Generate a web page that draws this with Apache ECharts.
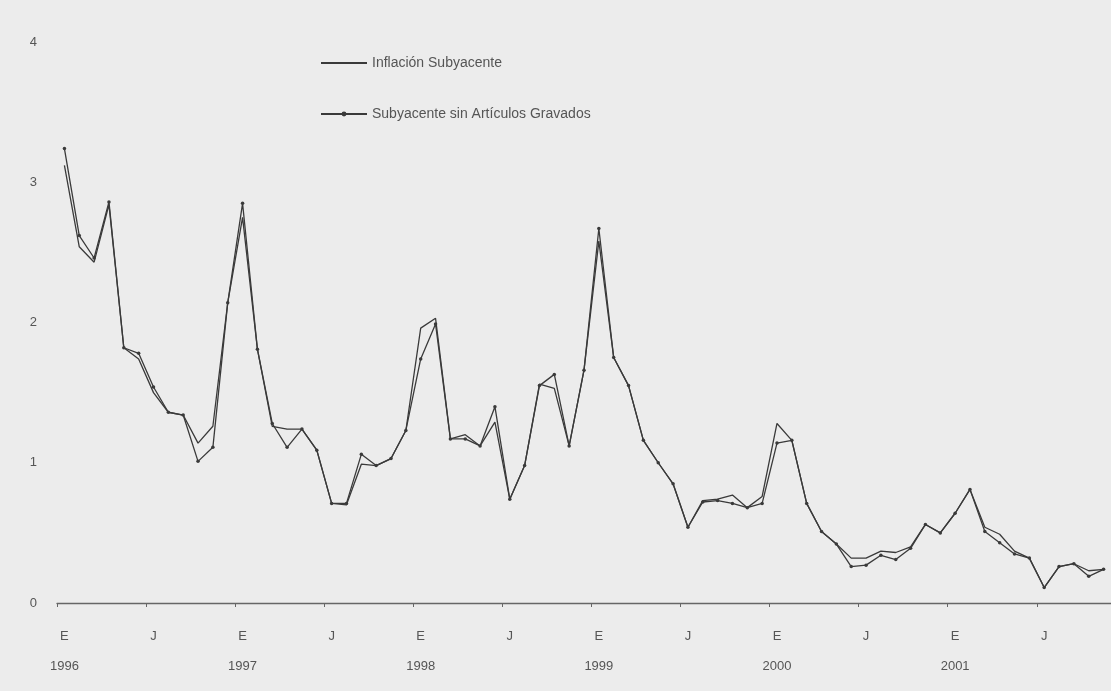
<!DOCTYPE html>
<html><head><meta charset="utf-8">
<script src="https://cdn.jsdelivr.net/npm/echarts@6/dist/echarts.min.js"></script>
<style>html,body{margin:0;padding:0;background:#ececec;}#c{width:1111px;height:691px;}</style>
</head><body><div id="c"></div>
<script>
const years = [1996, 1997, 1998, 1999, 2000, 2001];
const monthCodes = ['01','02','03','04','05','06','07','08','09','10','11','12'];
const tickLabels = ['E\n1996','J','E\n1997','J','E\n1998','J','E\n1999','J','E\n2000','J','E\n2001','J'];
const inflacionSubyacente = [3.12,2.54,2.43,2.84,1.82,1.74,1.50,1.36,1.34,1.14,1.26,2.14,
  2.75,1.81,1.26,1.24,1.24,1.09,0.71,0.70,0.99,0.98,1.03,1.23,
  1.96,2.03,1.17,1.20,1.12,1.29,0.74,0.98,1.56,1.53,1.12,1.66,
  2.58,1.75,1.55,1.16,1.00,0.85,0.54,0.73,0.74,0.77,0.68,0.76,
  1.28,1.16,0.71,0.51,0.42,0.32,0.32,0.37,0.36,0.40,0.56,0.50,
  0.64,0.81,0.54,0.49,0.37,0.32,0.11,0.26,0.28,0.23,0.24];
const sinGravados = [3.24,2.62,2.46,2.86,1.82,1.78,1.54,1.36,1.34,1.01,1.11,2.14,
  2.85,1.81,1.28,1.11,1.24,1.09,0.71,0.71,1.06,0.98,1.03,1.23,
  1.74,1.99,1.17,1.17,1.12,1.40,0.74,0.98,1.55,1.63,1.12,1.66,
  2.67,1.75,1.55,1.16,1.00,0.85,0.54,0.72,0.73,0.71,0.68,0.71,
  1.14,1.16,0.71,0.51,0.42,0.26,0.27,0.34,0.31,0.39,0.56,0.50,
  0.64,0.81,0.51,0.43,0.35,0.32,0.11,0.26,0.28,0.19,0.24];
const categories = [];
years.forEach(y => monthCodes.forEach(m => categories.push(y + '-' + m)));
categories.length = inflacionSubyacente.length;

const chart = echarts.init(document.getElementById('c'), null, {renderer: 'canvas'});
const ink = '#3a3a3a';
const txt = '#555';
const font = '"Liberation Sans", Arial, sans-serif';
chart.setOption({
  backgroundColor: '#ececec',
  animation: false,
  grid: {left: 57, right: -1, top: 42, bottom: 88},
  legend: {
    orient: 'vertical', left: 315, top: 51, itemGap: 37, itemWidth: 46, itemHeight: 6,
    textStyle: {color: txt, fontSize: 14, fontFamily: font},
    data: [
      {name: 'Inflación Subyacente', itemStyle: {opacity: 0}},
      {name: 'Subyacente sin Artículos Gravados'}
    ]
  },
  xAxis: {
    type: 'category', data: categories, boundaryGap: true,
    axisLine: {show: true, lineStyle: {color: '#666', width: 1.3}},
    axisTick: {show: true, interval: 5, length: 4, lineStyle: {color: '#666'}},
    axisLabel: {
      interval: 5, margin: 18, color: txt, fontSize: 13, fontFamily: font, lineHeight: 30,
      formatter: (v, i) => tickLabels[Math.floor(i / 6)] || ''
    },
    splitLine: {show: false}
  },
  yAxis: {
    type: 'value', min: 0, max: 4, interval: 1,
    axisLine: {show: false}, axisTick: {show: false}, splitLine: {show: false},
    axisLabel: {margin: 20, color: txt, fontSize: 13, fontFamily: font}
  },
  series: [
    {name: 'Inflación Subyacente', type: 'line', data: inflacionSubyacente,
     symbol: 'none', lineStyle: {color: ink, width: 1.3}, itemStyle: {color: ink}},
    {name: 'Subyacente sin Artículos Gravados', type: 'line', data: sinGravados,
     symbol: 'circle', symbolSize: 3.5, showSymbol: true,
     lineStyle: {color: ink, width: 1.3}, itemStyle: {color: ink}}
  ]
});
</script></body></html>
